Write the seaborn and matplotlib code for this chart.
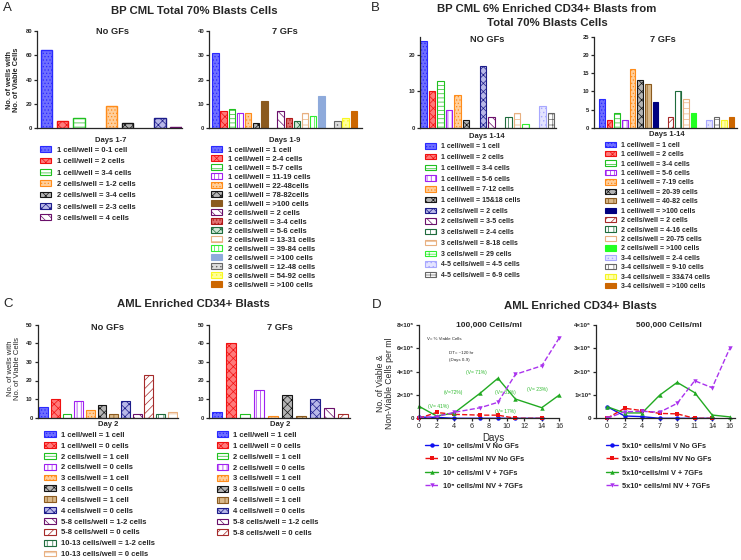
import numpy as np
import matplotlib
matplotlib.use('Agg')
import matplotlib.pyplot as plt
from matplotlib.patches import Patch
from matplotlib.lines import Line2D
from matplotlib.ticker import FuncFormatter
import seaborn as sns

sns.set_theme(style='ticks')
plt.rcParams['font.family'] = ['Liberation Sans', 'DejaVu Sans']
plt.rcParams['hatch.linewidth'] = 0.5
plt.rcParams['axes.linewidth'] = 0.9

# ---------------- data ----------------
a_nogf_labels = ["1 cell/well = 0-1 cell", "1 cell/well = 2 cells", "1 cell/well = 3-4 cells",
                 "2 cells/well = 1-2 cells", "2 cells/well = 3-4 cells",
                 "3 cells/well = 2-3 cells", "3 cells/well = 4 cells"]
a_nogf_values = [64, 6, 8, 18, 4, 8, 1]

a_gf_labels = ["1 cell/well = 1 cell", "1 cell/well = 2-4 cells", "1 cell/well = 5-7 cells",
               "1 cell/well = 11-19 cells", "1 cell/well = 22-48cells", "1 cell/well = 78-82cells",
               "1 cell/well = >100 cells", "2 cells/well = 2 cells", "2 cells/well = 3-4 cells",
               "2 cells/well = 5-6 cells", "2 cells/well = 13-31 cells", "2 cells/well = 39-84 cells",
               "2 cells/well = >100 cells", "3 cells/well = 12-48 cells", "3 cells/well = 54-92 cells",
               "3 cells/well = >100 cells"]
a_gf_values = [31, 7, 8, 6, 6, 2, 11, 7, 4, 3, 6, 5, 13, 3, 4, 7]

b_nogf_labels = ["1 cell/well = 1 cell", "1 cell/well = 2 cells", "1 cell/well = 3-4 cells",
                 "1 cell/well = 5-6 cells", "1 cell/well = 7-12 cells", "1 cell/well = 15&18 cells",
                 "2 cells/well = 2 cells", "2 cells/well = 3-5 cells", "3 cells/well = 2-4 cells",
                 "3 cells/well = 8-18 cells", "3 cells/well = 29 cells", "4-5 cells/well = 4-5 cells",
                 "4-5 cells/well = 6-9 cells"]
b_nogf_values = [24, 10, 13, 5, 9, 2, 17, 3, 3, 4, 1, 6, 4]

b_gf_labels = ["1 cell/well = 1 cell", "1 cell/well = 2 cells", "1 cell/well = 3-4 cells",
               "1 cell/well = 5-6 cells", "1 cell/well = 7-19 cells", "1 cell/well = 20-39 cells",
               "1 cell/well = 40-82 cells", "1 cell/well = >100 cells", "2 cells/well = 2 cells",
               "2 cells/well = 4-16 cells", "2 cells/well = 20-75 cells", "2 cells/well = >100 cells",
               "3-4 cells/well = 2-4 cells", "3-4 cells/well = 9-10 cells",
               "3-4 cells/well = 33&74 cells", "3-4 cells/well = >100 cells"]
b_gf_values = [8, 2, 4, 2, 16, 13, 12, 7, 3, 10, 8, 4, 2, 3, 2, 3]

c_nogf_labels = ["1 cell/well = 1 cell", "1 cell/well = 0 cells", "2 cells/well = 1 cell",
                 "2 cells/well = 0 cells", "3 cells/well = 1 cell", "3 cells/well = 0 cells",
                 "4 cells/well = 1 cell", "4 cells/well = 0 cells", "5-8 cells/well = 1-2 cells",
                 "5-8 cells/well = 0 cells", "10-13 cells/well = 1-2 cells", "10-13 cells/well = 0 cells"]
c_nogf_values = [6, 10, 2, 9, 4, 7, 2, 9, 2, 23, 2, 3]

c_gf_labels = c_nogf_labels[:10]
c_gf_values = [3, 40, 2, 15, 1, 12, 1, 10, 5, 2]

days = [0, 2, 4, 7, 9, 11, 14, 16]
day_labels = ['0', '2', '4', '7', '9', '11', '14', '16']

d1_v_nogf = [0.10e6, 0.08e6, 0, 0, 0, 0, 0]
d1_nv_nogf = [0, 0.50e6, 0.34e6, 0.27e6, 0.27e6, 0, 0]
d1_v_gf = [1.03e6, 0.20e6, 0.45e6, 2.17e6, 3.43e6, 1.65e6, 0.91e6, 2.00e6]
d1_nv_gf = [0, 0.15e6, 0.51e6, 0.91e6, 1.37e6, 3.77e6, 4.50e6, 6.90e6]

d5_v_nogf = [0.50e6, 0.10e6, 0.07e6, 0, 0, 0, 0]
d5_nv_nogf = [0, 0.43e6, 0.33e6, 0.21e6, 0.19e6, 0, 0]
d5_v_gf = [0.50e6, 0.23e6, 0.23e6, 0.99e6, 1.54e6, 1.10e6, 0.14e6, 0.06e6]
d5_nv_gf = [0, 0.28e6, 0.30e6, 0.26e6, 0.64e6, 1.61e6, 1.31e6, 3.00e6]

d1_labels = ["10⁵ cells/ml V No GFs", "10⁵ cells/ml NV No GFs",
             "10⁵ cells/ml V + 7GFs", "10⁵ cells/ml NV + 7GFs"]
d5_labels = ["5x10⁵ cells/ml V No GFs", "5x10⁵ cells/ml NV No GFs",
             "5x10⁵cells/ml V + 7GFs", "5x10⁵ cells/ml NV + 7GFs"]

viability_notes = ["(V= 41%)", "(V=72%)", "(V= 71%)", "(V= 31%)", "(V= 23%)", "(V= 17%)"]

# ---------------- styles ----------------
BAR_STYLES = {
    'blue': ('#6e6eff', '#2a2aff', '.....'),
    'red': ('#ff7a7a', '#f01010', 'xxxx'),
    'green': ('#ffffff', '#20c020', '----'),
    'purple': ('#ffffff', '#a020f0', '||||'),
    'orange': ('#ffcf9c', '#ff8c1a', '.....'),
    'black': ('#b4b4b4', '#151515', 'xxxx'),
    'navy': ('#b8b8e8', '#1c1c8a', 'xxxx'),
    'maroon': ('#ffffff', '#6a0f6a', '\\\\\\\\'),
    'brown': ('#8b5a1e', '#8b5a1e', ''),
    'brown_v': ('#d9b98a', '#8b5a1e', '|||'),
    'darkred': ('#e07070', '#b01818', '.....'),
    'dkgreen': ('#cfe6d6', '#1e6b3c', 'xxxx'),
    'dkgreen_v': ('#ffffff', '#1e6b3c', '|||'),
    'tan': ('#ffffff', '#e8b080', '---'),
    'lime_v': ('#ffffff', '#30ee30', '||||'),
    'lime_grid': ('#ffffff', '#30ee30', '++'),
    'lime': ('#22ff22', '#22ff22', ''),
    'steel': ('#8eaadb', '#8eaadb', ''),
    'grey': ('#dddddd', '#666666', '....'),
    'grey_h': ('#ffffff', '#666666', '+++'),
    'yellow': ('#ffff99', '#f8f820', '....'),
    'yellow_v': ('#ffffaa', '#f4f420', '|||'),
    'ochre': ('#cc6600', '#cc6600', ''),
    'lav': ('#e4e4ff', '#a8a8ff', '....'),
    'navy_solid': ('#000080', '#000080', ''),
    'brick_d': ('#ffffff', '#a52a2a', '////'),
}
a_nogf_styles = ['blue', 'red', 'green', 'orange', 'black', 'navy', 'maroon']
a_gf_styles = ['blue', 'red', 'green', 'purple', 'orange', 'black', 'brown', 'maroon',
               'darkred', 'dkgreen', 'tan', 'lime_v', 'steel', 'grey', 'yellow', 'ochre']
b_nogf_styles = ['blue', 'red', 'green', 'purple', 'orange', 'black', 'navy', 'maroon',
                 'dkgreen_v', 'tan', 'lime_grid', 'lav', 'grey_h']
b_gf_styles = ['blue', 'red', 'green', 'purple', 'orange', 'black', 'brown_v', 'navy_solid',
               'brick_d', 'dkgreen_v', 'tan', 'lime', 'lav', 'grey_h', 'yellow_v', 'ochre']
c_styles = ['blue', 'red', 'green', 'purple', 'orange', 'black', 'brown_v', 'navy',
            'maroon', 'brick_d', 'dkgreen_v', 'tan']

LINE_COLORS = ['#1010f0', '#ee1111', '#22aa22', '#aa33ee']
LINE_MARKERS = ['o', 's', '^', 'v']
LINE_STYLES = ['-', '--', '-', '--']

W, H = 741, 560
fig = plt.figure(figsize=(W / 100, H / 100), dpi=100)


def px_axes(left, top, right, bottom):
    return fig.add_axes([left / W, 1 - bottom / H, (right - left) / W, (bottom - top) / H])


def ftext(x, y, s, size, weight='bold', ha='center', **kw):
    fig.text(x / W, 1 - y / H, s, ha=ha, va='center', fontsize=size, fontweight=weight, **kw)


def style_axes(ax, ymax, yticks, tick_size=4.2):
    sns.despine(ax=ax)
    ax.set_ylim(0, ymax)
    ax.set_yticks(yticks)
    ax.tick_params(axis='y', length=2.5, width=0.9, labelsize=tick_size, pad=1)
    for t in ax.get_yticklabels():
        t.set_fontweight('bold')
    ax.set_facecolor('none')


def draw_bars(ax, labels, values, styles, width, gaps=True, lw=0.8):
    # bars of one "cells/well" group sit side by side, a blank slot between groups
    groups = [lab.split(' = ')[0] for lab in labels]
    slots = []
    pos = 0
    for i, g in enumerate(groups):
        if i > 0:
            pos += 2 if (gaps and g != groups[i - 1]) else 1
        slots.append(pos)
    sns.barplot(x=slots, y=values, native_scale=True, width=width, errorbar=None,
                color='white', ax=ax)
    for patch, key in zip(ax.patches, styles):
        face, edge, hatch = BAR_STYLES[key]
        patch.set_facecolor(face)
        patch.set_edgecolor(edge)
        patch.set_hatch(hatch)
        patch.set_linewidth(lw)
    ax.set_xticks([])
    ax.set_xlabel('')
    ax.set_ylabel('')


def px_legend(handles, labels, x, y_first, pitch, fs, swatch_w, text_x, ht=0.8, weight='bold'):
    fs_px = fs * 100 / 72
    row_h = max(0.985 * fs_px, ht * fs_px)
    fig.legend(handles, labels, loc='upper left',
               bbox_to_anchor=(x / W, 1 - (y_first - row_h / 2) / H),
               frameon=False, prop={'weight': weight, 'size': fs},
               handlelength=swatch_w / fs_px, handleheight=ht,
               handletextpad=(text_x - x - swatch_w) / fs_px,
               labelspacing=(pitch - row_h) / fs_px, borderpad=0, borderaxespad=0)


def bar_handles(styles):
    return [Patch(facecolor=BAR_STYLES[k][0], edgecolor=BAR_STYLES[k][1],
                  hatch=BAR_STYLES[k][2], linewidth=0.8) for k in styles]


# ---------------- panel A ----------------
ax = px_axes(37, 31, 182, 128)
draw_bars(ax, a_nogf_labels, a_nogf_values, a_nogf_styles, 0.7, lw=1.0)
style_axes(ax, 80, [0, 20, 40, 60, 80])
ax.set_xlim(-0.59, 8.36)

ax = px_axes(209, 31, 362, 128)
draw_bars(ax, a_gf_labels, a_gf_values, a_gf_styles, 0.8)
style_axes(ax, 40, [0, 10, 20, 30, 40])
ax.set_xlim(-0.8, 18)

ftext(7, 8, 'A', 9.5, weight='normal')
ftext(194, 11, 'BP CML Total 70% Blasts Cells', 8.2)
ftext(112, 32, 'No GFs', 6.7)
ftext(285, 32, '7 GFs', 6.7)
ftext(111, 140, 'Days 1-7', 5.5)
ftext(285, 140, 'Days 1-9', 5.5)
fig.text(13 / W, 1 - 80 / H, 'No. of wells with\nNo. of Viable Cells', rotation=90,
         ha='center', va='center', fontsize=5.3, fontweight='bold', linespacing=1.1)
px_legend(bar_handles(a_nogf_styles), a_nogf_labels, 40, 150, 11.3, 5.5, 11, 57)
px_legend(bar_handles(a_gf_styles), a_gf_labels, 211, 150, 8.93, 5.5, 11, 228)

# ---------------- panel B ----------------
ax = px_axes(420, 37, 556, 127.7)
draw_bars(ax, b_nogf_labels, b_nogf_values, b_nogf_styles, 0.75)
style_axes(ax, 25, [0, 10, 20])
ax.set_xlim(-0.4, 15.6)

ax = px_axes(594, 36.7, 737, 127.7)
draw_bars(ax, b_gf_labels, b_gf_values, b_gf_styles, 0.74)
style_axes(ax, 25, [0, 5, 10, 15, 20, 25])
ax.set_xlim(-1.05, 17.7)

ftext(375, 8, 'B', 9.5, weight='normal')
ftext(547, 8.5, 'BP CML 6% Enriched CD34+ Blasts from', 8.2)
ftext(547, 22.7, 'Total 70% Blasts Cells', 8.2)
ftext(487, 40, 'NO GFs', 6.7)
ftext(663, 40, '7 GFs', 6.7)
ftext(487, 136, 'Days 1-14', 5.5)
ftext(667, 135, 'Days 1-14', 5.5)
px_legend(bar_handles(b_nogf_styles), b_nogf_labels, 425, 146.7, 10.5, 5.0, 11, 441)
px_legend(bar_handles(b_gf_styles), b_gf_labels, 605, 145, 9.2, 5.0, 11, 621)

# ---------------- panel C ----------------
ax = px_axes(37.5, 324.7, 178, 417.7)
draw_bars(ax, c_nogf_labels, c_nogf_values, c_styles, 0.75, gaps=False)
style_axes(ax, 50, [0, 10, 20, 30, 40, 50])
ax.set_xlim(-0.53, 11.5)

ax = px_axes(209, 324.7, 350, 417.7)
draw_bars(ax, c_gf_labels, c_gf_values, c_styles[:10], 0.72, gaps=False)
style_axes(ax, 50, [0, 10, 20, 30, 40, 50])
ax.set_xlim(-0.57, 9.5)

ftext(8, 304, 'C', 9.5, weight='normal')
ftext(193, 304, 'AML Enriched CD34+ Blasts', 8.2)
ftext(108, 327, 'No GFs', 6.7)
ftext(280, 327, '7 GFs', 6.7)
ftext(108, 424, 'Day 2', 5.5)
ftext(280, 424, 'Day 2', 5.5)
fig.text(14 / W, 1 - 368 / H, 'No. of wells with\nNo. of Viable Cells', rotation=90,
         ha='center', va='center', fontsize=5.5, linespacing=1.1)
px_legend(bar_handles(c_styles), c_nogf_labels, 44, 435, 10.8, 5.5, 12, 61)
px_legend(bar_handles(c_styles[:10]), c_gf_labels, 217, 435, 10.86, 5.5, 11, 233)

# ---------------- panel D ----------------
sci = FuncFormatter(lambda v, p: '0' if v == 0 else f'{v / 1e6:g}×10⁶')

ax = px_axes(419, 325, 559.3, 418.3)
for vals, c, m, ls in zip([d1_v_nogf, d1_nv_nogf, d1_v_gf, d1_nv_gf],
                          LINE_COLORS, LINE_MARKERS, LINE_STYLES):
    sns.lineplot(x=days[:len(vals)], y=vals, color=c, marker=m, linestyle=ls,
                 markersize=3.2, markeredgewidth=0, linewidth=1, ax=ax)
style_axes(ax, 8e6, [0, 2e6, 4e6, 6e6, 8e6], tick_size=4.5)
ax.yaxis.set_major_formatter(sci)
ax.set_xlim(0, 16)
ax.set_xticks(range(0, 17, 2))
ax.tick_params(axis='x', length=2.5, width=0.9, labelsize=5.2, pad=1)
for ln in ax.lines:
    ln.set_clip_on(False)
note_pos = [(2.2, 1.05e6), (3.9, 2.25e6), (6.5, 3.9e6), (9.8, 2.17e6), (13.5, 2.5e6), (9.8, 0.55e6)]
for s, (xx, yy) in zip(viability_notes, note_pos):
    ax.text(xx, yy, s, color='#33bb33', fontsize=3.6, ha='center', va='center')
ax.text(0.9, 6.8e6, 'V= % Viable Cells', fontsize=3.2, ha='left', va='center')
ax.text(3.4, 5.6e6, 'DT= ~120 hr', fontsize=3.2, ha='left', va='center')
ax.text(3.4, 5.0e6, '(Days 0-9)', fontsize=3.2, ha='left', va='center')

ax = px_axes(596, 325, 735, 418.3)
for vals, c, m, ls in zip([d5_v_nogf, d5_nv_nogf, d5_v_gf, d5_nv_gf],
                          LINE_COLORS, LINE_MARKERS, LINE_STYLES):
    sns.pointplot(x=day_labels[:len(vals)], y=vals, order=day_labels, color=c,
                  markers=m, linestyles=ls, errorbar=None, markersize=3.2,
                  markeredgewidth=0, linewidth=1, ax=ax)
style_axes(ax, 4e6, [0, 1e6, 2e6, 3e6, 4e6], tick_size=4.5)
ax.yaxis.set_major_formatter(sci)
ax.set_xlim(-0.63, 7.3)
ax.set_xlabel('')
ax.set_ylabel('')
ax.tick_params(axis='x', length=2.5, width=0.9, labelsize=5.2, pad=1)
for ln in ax.lines:
    ln.set_clip_on(False)

ftext(377, 305, 'D', 9.5, weight='normal')
ftext(580, 306, 'AML Enriched CD34+ Blasts', 8.2)
ftext(489, 325, '100,000 Cells/ml', 6)
ftext(669, 325, '500,000 Cells/ml', 6)
ftext(493, 438, 'Days', 7, weight='normal')
fig.text(385 / W, 1 - 383 / H, 'No. of Viable &\nNon-Viable Cells per ml', rotation=90,
         ha='center', va='center', fontsize=6.2, linespacing=1.1)
d_handles = [Line2D([0], [0], color=c, marker=m, linestyle=ls, markersize=3.2,
                    markeredgewidth=0, linewidth=1)
             for c, m, ls in zip(LINE_COLORS, LINE_MARKERS, LINE_STYLES)]
px_legend(d_handles, d1_labels, 425, 446, 13.3, 5.3, 13, 443)
px_legend(d_handles, d5_labels, 606, 446, 13.3, 5.3, 12, 622)

fig.savefig('out.png', dpi=100, facecolor='white')
